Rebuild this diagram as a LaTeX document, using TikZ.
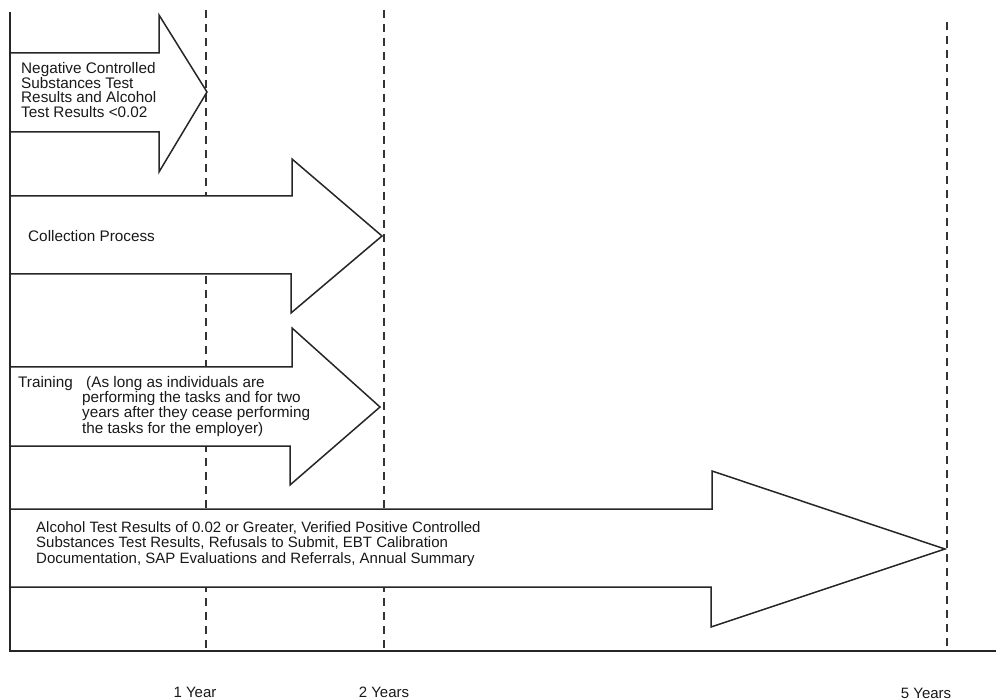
\documentclass[tikz,border=0pt]{standalone}
\usepackage{fontspec}
\setmainfont{Liberation Sans}
\begin{document}
\begin{tikzpicture}[x=1pt,y=-1pt,
  bigarrow/.style={draw=black!85,fill=white,line width=1.5pt,line join=miter},
  guide/.style={draw=black!80,line width=1.1pt,dash pattern=on 8pt off 6pt},
  axisline/.style={draw=black!85,line width=1.8pt},
  lbl/.style={inner sep=0pt,align=left,anchor=west,text=black!90},
  yearlbl/.style={inner sep=0pt,text=black!90,font=\fontsize{15}{16}\selectfont}]
\useasboundingbox (0,0) rectangle (996,700);
% dashed year guides
\coordinate (g1t) at (206,10); \coordinate (g1b) at (206,651);
\coordinate (g2t) at (384,10); \coordinate (g2b) at (384,651);
\coordinate (g5t) at (947,22); \coordinate (g5b) at (947,651);
\draw[guide] (g1t) -- (g1b);
\draw[guide] (g2t) -- (g2b);
\draw[guide] (g5t) -- (g5b);
% arrows
\draw[bigarrow] (10,53) -- (159,53) -- (159,15) -- (207,92) -- (159,172) -- (159,132) -- (10,132);
\draw[bigarrow] (10,196) -- (292,196) -- (292,159) -- (382,236) -- (291,313) -- (291,274) -- (10,274);
\draw[bigarrow] (10,367) -- (292,367) -- (292,328) -- (380,407) -- (290,485) -- (290,446) -- (10,446);
\draw[bigarrow] (10,509) -- (712,509) -- (712,471) -- (945,549) -- (711,627) -- (711,587) -- (10,587);
% axes
\coordinate (ytop) at (10,12);
\coordinate (origin) at (10,651);
\coordinate (xend) at (996,651);
\draw[axisline] (ytop) -- (origin) -- (xend);
% texts
\node[lbl,font=\fontsize{15.3}{14.6}\selectfont] (t1) at (21,90)
  {Negative Controlled\\Substances Test\\Results and Alcohol\\Test Results <0.02};
\node[lbl,font=\fontsize{15.3}{15.3}\selectfont] (t2) at (28,236) {Collection Process};
\node[lbl,font=\fontsize{15.3}{15.3}\selectfont,anchor=base west] (t3a) at (18,388) {Training};
\node[lbl,font=\fontsize{15.3}{15.3}\selectfont,anchor=north west] (t3b) at (82,376)
  {\hspace*{4pt}(As long as individuals are\\performing the tasks and for two\\years after they cease performing\\the tasks for the employer)};
\node[lbl,font=\fontsize{15}{15.5}\selectfont] (t4) at (36,544)
  {Alcohol Test Results of 0.02 or Greater, Verified Positive Controlled\\Substances Test Results, Refusals to Submit, EBT Calibration\\Documentation, SAP Evaluations and Referrals, Annual Summary};
% year labels
\node[yearlbl] (y1) at (195,692) {1 Year};
\node[yearlbl] (y2) at (384,692) {2 Years};
\node[yearlbl] (y5) at (926,693) {5 Years};
\end{tikzpicture}
\end{document}
